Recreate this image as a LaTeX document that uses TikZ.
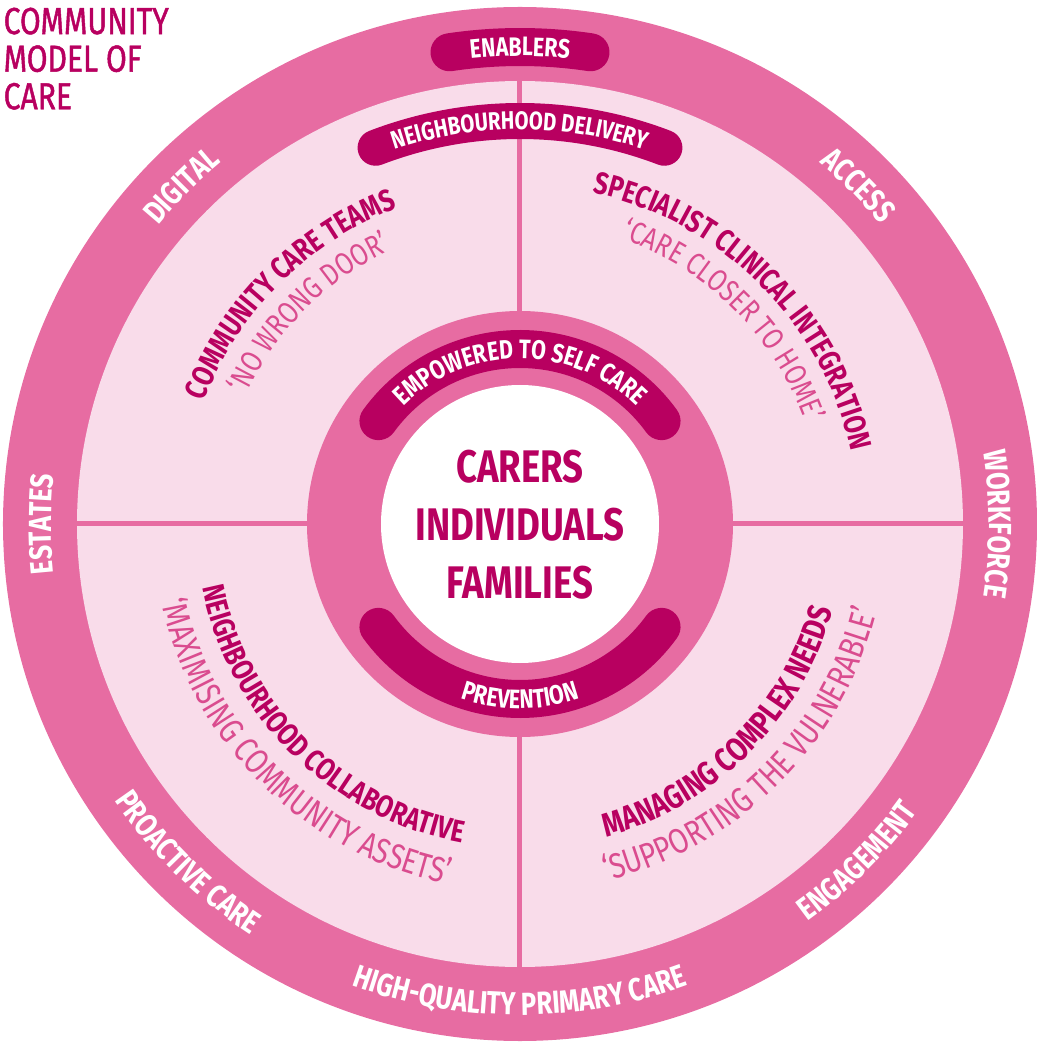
\documentclass[tikz,border=0pt]{standalone}
\usepackage{fontspec}
\setmainfont{Fira Sans}[FakeStretch=0.8]
\usetikzlibrary{decorations.text}

\definecolor{ringpink}{HTML}{E76CA2}
\definecolor{softpink}{HTML}{F9DCEA}
\definecolor{deeppink}{HTML}{B80060}
\definecolor{quotepink}{HTML}{DA4C8F}

\newcommand{\ringfont}{\bfseries\fontsize{9.1}{9.1}\selectfont}
\newcommand{\bandfont}{\bfseries\fontsize{7.6}{7.6}\selectfont}
\newcommand{\deliveryfont}{\bfseries\fontsize{7.2}{7.2}\selectfont}
\newcommand{\headfont}{\bfseries\fontsize{8.8}{8.8}\selectfont}
\newcommand{\quotefont}{\fontsize{8.8}{8.8}\selectfont}
\newcommand{\lowquotefont}{\fontsize{10}{10}\selectfont}

\tikzset{
  arctext/.style={decorate, decoration={text along path, text align=center, #1}},
  band/.style={deeppink, line width=#1, line cap=round},
}

\begin{document}
\begin{tikzpicture}
	\useasboundingbox (-5.20,-5.21) rectangle (5.17,5.24);

	\fill[ringpink] (0,0) circle (5.17);
	\fill[softpink] (0,0) circle (4.43);

	\draw[ringpink, line width=0.05cm] (0,4.45) -- (0,-4.45);
	\draw[ringpink, line width=0.05cm] (-4.45,0) -- (4.45,0);

	\fill[ringpink] (0,0) circle (2.13);
	\fill[white] (0,0) circle (1.39);

	\draw[band=0.38cm] (98.5:4.77) arc[start angle=98.5, end angle=81.5, radius=4.77];
	\draw[band=0.36cm] (111:4.03) arc[start angle=111, end angle=69, radius=4.03];
	\draw[band=0.38cm] (144:1.75) arc[start angle=144, end angle=36, radius=1.75];
	\draw[band=0.38cm] (216:1.75) arc[start angle=216, end angle=324, radius=1.75];

	\node[anchor=north west, inner sep=0, align=left, text=deeppink, font=\addfontfeature{FakeBold=1.2}\fontsize{10.7}{10.7}\selectfont] (title) at (-5.17,5.17) {COMMUNITY\\MODEL OF\\CARE};
	\node[align=center, text=deeppink, font=\bfseries\fontsize{13}{16.5}\selectfont] (people) at (0,-0.01) {CARERS\\INDIVIDUALS\\FAMILIES};

	\path[arctext={text={|\ringfont|DIGITAL}, text color=white}] (165:4.69) arc[start angle=165, end angle=105, radius=4.69];
	\path[arctext={text={|\ringfont|ACCESS}, text color=white}] (75:4.69) arc[start angle=75, end angle=15, radius=4.69];
	\path[arctext={text={|\ringfont|ESTATES}, text color=white}] (210:4.69) arc[start angle=210, end angle=150, radius=4.69];
	\path[arctext={text={|\ringfont|WORKFORCE}, text color=white}] (30:4.69) arc[start angle=30, end angle=-30, radius=4.69];
	\path[arctext={text={|\ringfont|ENGAGEMENT}, text color=white}] (-75:4.91) arc[start angle=-75, end angle=-15, radius=4.91];
	\path[arctext={text={|\ringfont|HIGH-QUALITY PRIMARY CARE}, text color=white}] (-120:4.91) arc[start angle=-120, end angle=-60, radius=4.91];
	\path[arctext={text={|\ringfont|PROACTIVE CARE}, text color=white}] (-164.5:4.91) arc[start angle=-164.5, end angle=-104.5, radius=4.91];

	\path[arctext={text={|\bandfont|ENABLERS}, text color=white}] (100:4.68) arc[start angle=100, end angle=80, radius=4.68];
	\path[arctext={text={|\deliveryfont|NEIGHBOURHOOD DELIVERY}, text color=white}] (115:3.945) arc[start angle=115, end angle=65, radius=3.945];
	\path[arctext={text={|\bandfont|EMPOWERED TO SELF CARE}, text color=white}] (150:1.655) arc[start angle=150, end angle=30, radius=1.655];
	\path[arctext={text={|\bandfont|PREVENTION}, text color=white}] (-130:1.845) arc[start angle=-130, end angle=-50, radius=1.845];

	\path[arctext={text={|\headfont|COMMUNITY CARE TEAMS}, text color=deeppink}] (180:3.39) arc[start angle=180, end angle=90, radius=3.39];
	\path[arctext={text={|\headfont|SPECIALIST CLINICAL INTEGRATION}, text color=deeppink}] (90:3.39) arc[start angle=90, end angle=0, radius=3.39];
	\path[arctext={text={|\headfont|NEIGHBOURHOOD COLLABORATIVE}, text color=deeppink}] (-179.5:3.24) arc[start angle=-179.5, end angle=-89.5, radius=3.24];
	\path[arctext={text={|\bfseries\fontsize{9.5}{9.5}\selectfont|MANAGING COMPLEX NEEDS}, text color=deeppink}] (-90:3.245) arc[start angle=-90, end angle=0, radius=3.245];

	\path[arctext={text={|\quotefont|‘NO WRONG DOOR’}, text color=quotepink}] (180:3.03) arc[start angle=180, end angle=90, radius=3.03];
	\path[arctext={text={|\quotefont|‘CARE CLOSER TO HOME’}, text color=quotepink}] (90:3.03) arc[start angle=90, end angle=0, radius=3.03];
	\path[arctext={text={|\lowquotefont|‘MAXIMISING COMMUNITY ASSETS’}, text color=quotepink}] (-179.5:3.67) arc[start angle=-179.5, end angle=-89.5, radius=3.67];
	\path[arctext={text={|\lowquotefont|‘SUPPORTING THE VULNERABLE’}, text color=quotepink}] (-90:3.67) arc[start angle=-90, end angle=0, radius=3.67];
\end{tikzpicture}
\end{document}
